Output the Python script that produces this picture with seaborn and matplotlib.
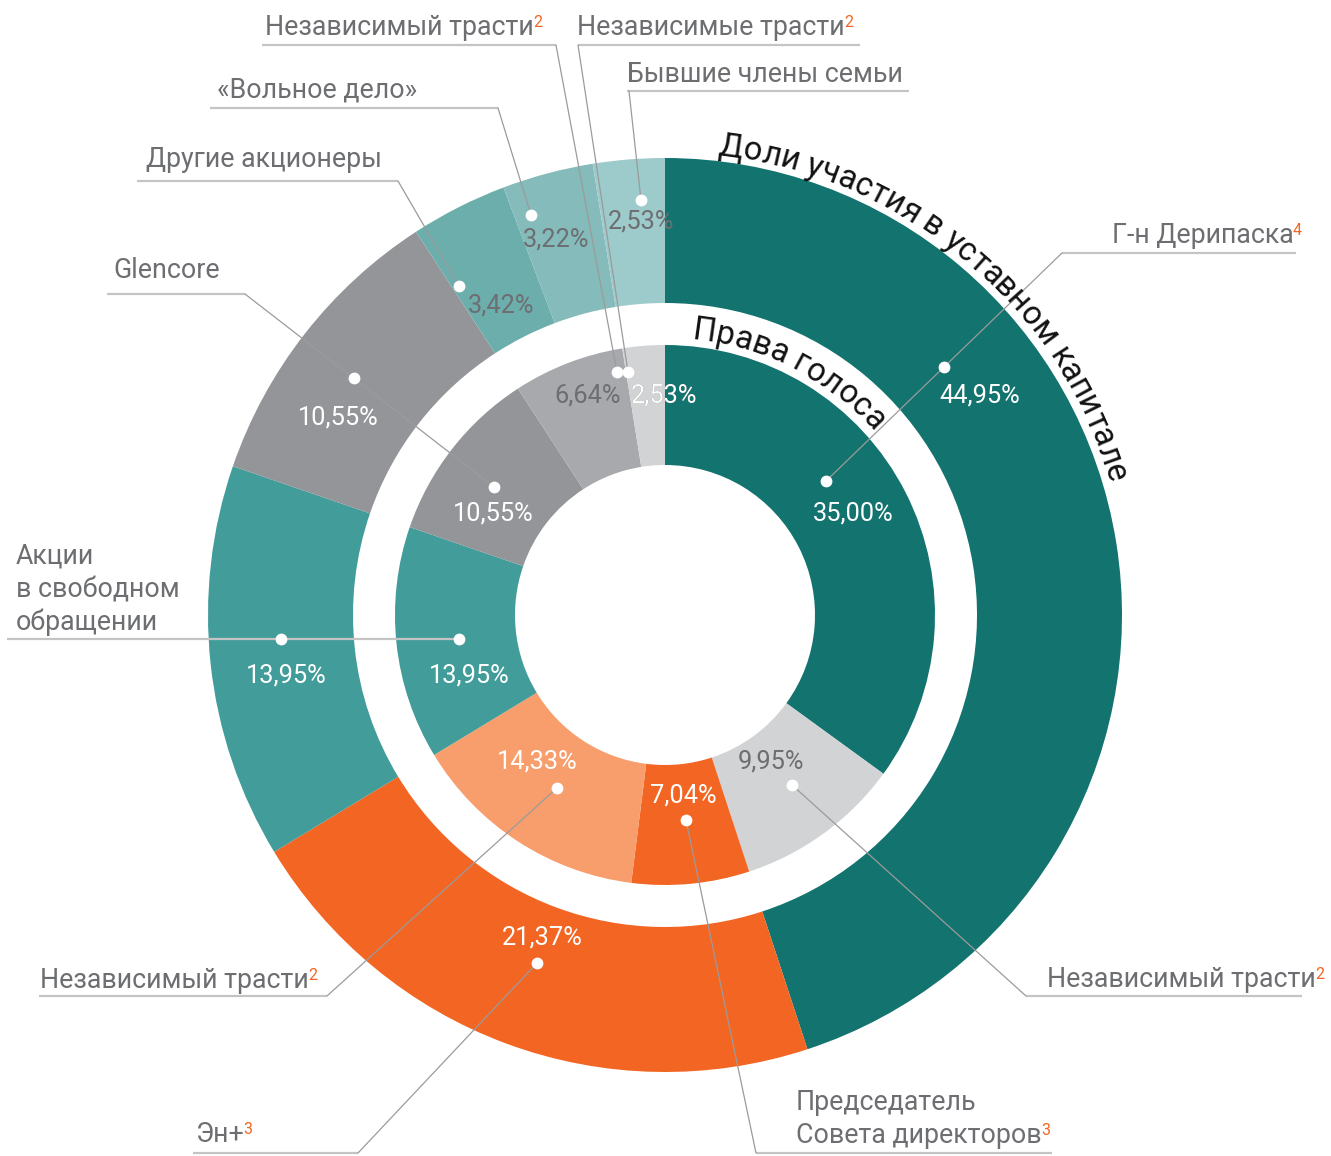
import numpy as np
import matplotlib
matplotlib.use("Agg")
import matplotlib.pyplot as plt
from matplotlib.font_manager import FontProperties
import seaborn as sns

# ---- data -------------------------------------------------------------
outer_names = ["Г-н Дерипаска", "Эн+", "Акции в свободном обращении", "Glencore",
               "Другие акционеры", "«Вольное дело»", "Бывшие члены семьи"]
outer_shares = [44.95, 21.37, 13.95, 10.55, 3.42, 3.22, 2.53]

inner_names = ["Г-н Дерипаска", "Независимый трасти", "Председатель Совета директоров",
               "Независимый трасти", "Акции в свободном обращении", "Glencore",
               "Независимый трасти", "Независимые трасти"]
inner_shares = [35.00, 9.95, 7.04, 14.33, 13.95, 10.55, 6.64, 2.53]

outer_title = "Доли участия в уставном капитале"
inner_title = "Права голоса"

# ---- styling ----------------------------------------------------------
TEAL_DARK, ORANGE, TEAL, GREY = "#12736F", "#F26522", "#419C9A", "#939598"
outer_colors = [TEAL_DARK, ORANGE, TEAL, GREY, "#6CAEAC", "#85BBBA", "#9DCACA"]
inner_colors = [TEAL_DARK, "#D1D3D4", ORANGE, "#F89E6C", TEAL, GREY, "#A7A9AC", "#D1D3D4"]
outer_text_colors = ["white", "white", "white", "white", "#6D6E71", "#6D6E71", "#6D6E71"]
inner_text_colors = ["white", "#6D6E71", "white", "white", "white", "white", "#6D6E71", "#6D6E71"]
LABEL_C = "#6D6E71"
LINE_C = "#9B9B9B"
RULE_C = "#C4C4C4"

W, H = 1331, 1156
CX, CY = 665, 615
R_OUT, W_OUT = 457, 145
R_IN, W_IN = 270, 120

sns.set_theme(style="white")
plt.rcParams["font.family"] = ["Roboto", "DejaVu Sans"]

fig = plt.figure(figsize=(W / 100, H / 100), dpi=100)
ax = fig.add_axes([0, 0, 1, 1])


def P(x, y):
    """pixel position (y down) -> data position (y up)"""
    return x, H - y


centre = P(CX, CY)
outer_w, _ = ax.pie(outer_shares, colors=outer_colors, radius=R_OUT, center=centre,
                    startangle=90, counterclock=False,
                    wedgeprops=dict(width=W_OUT, linewidth=0))
inner_w, _ = ax.pie(inner_shares, colors=inner_colors, radius=R_IN, center=centre,
                    startangle=90, counterclock=False,
                    wedgeprops=dict(width=W_IN, linewidth=0))
ax.set_xlim(0, W)
ax.set_ylim(0, H)
ax.set_aspect("equal")
ax.axis("off")


def pct(v):
    return f"{v:.2f}%".replace(".", ",")


# ---- value labels -----------------------------------------------------
outer_pct_pos = [(980, 395), (542, 938), (286, 676), (338, 417), (501, 306), (556, 239), (641, 222)]
inner_pct_pos = [(853, 513), (771, 762), (683, 796), (537, 762), (469, 676), (493, 514), (588, 395), (664, 395)]

PCT_KW = dict(ha="center", va="center", fontsize=18.3, fontweight="normal", zorder=6)
for v, (x, y), c in zip(outer_shares, outer_pct_pos, outer_text_colors):
    ax.text(*P(x, y), pct(v), color=c, **PCT_KW)
for i, (v, (x, y), c) in enumerate(zip(inner_shares, inner_pct_pos, inner_text_colors)):
    ax.text(*P(x, y), pct(v), color=c, **PCT_KW)
    if i == len(inner_shares) - 1:
        # the part of this label lying on the dark wedge turns white
        t = ax.text(*P(x, y), pct(v), color="white", **PCT_KW)
        t.set_clip_path(inner_w[0])

# ---- callouts ---------------------------------------------------------
# lines of text, footnote, text x, baselines, rule (x0, x1, y), leader path, dots
callouts = [
    (["Г-н Дерипаска"], "4", 1112, [243], (1062, 1296, 253),
     [(1062, 253), (826, 481)], [(944, 367), (826, 481)]),
    (["Эн+"], "3", 195, [1142], (193, 358, 1153),
     [(358, 1153), (537, 963)], [(537, 963)]),
    (["Акции", "в свободном", "обращении"], None, 16, [563, 597, 630], (7, 459, 639),
     [], [(281, 639), (459, 639)]),
    (["Glencore"], None, 113, [278], (107, 245, 294),
     [(245, 294), (494, 487)], [(354, 378), (494, 487)]),
    (["Другие акционеры"], None, 146, [167], (137, 398, 181),
     [(398, 181), (459, 286)], [(459, 286)]),
    (["«Вольное дело»"], None, 217, [98], (210, 498, 108),
     [(498, 108), (531, 215)], [(531, 215)]),
    (["Независимый трасти"], "2", 265, [35], (262, 556, 45),
     [(556, 45), (617, 372)], [(617, 372)]),
    (["Независимые трасти"], "2", 577, [35], (578, 860, 45),
     [(578, 45), (628, 372)], [(628, 372)]),
    (["Бывшие члены семьи"], None, 627, [82], (627, 909, 91),
     [(629, 91), (641, 200)], [(641, 200)]),
    (["Независимый трасти"], "2", 40, [988], (39, 327, 996),
     [(327, 996), (557, 788)], [(557, 788)]),
    (["Председатель", "Совета директоров"], "3", 796, [1110, 1143], (756, 1052, 1153),
     [(756, 1153), (686, 820)], [(686, 820)]),
    (["Независимый трасти"], "2", 1047, [987], (1026, 1302, 996),
     [(1026, 996), (792, 785)], [(792, 785)]),
]

for lines, note, tx, bases, rule, path, dots in callouts:
    last = None
    for s, b in zip(lines, bases):
        last = ax.text(*P(tx, b), s, ha="left", va="baseline", fontsize=19.3,
                       color=LABEL_C, zorder=6)
    if note:
        ax.annotate(note, xy=(1, 0), xycoords=last, xytext=(-0.5, 18.5),
                    textcoords="offset points", ha="left", va="top",
                    fontsize=11.5, color=ORANGE, zorder=6)
    x0, x1, ry = rule
    ax.plot([P(x0, ry)[0], P(x1, ry)[0]], [P(x0, ry)[1], P(x1, ry)[1]],
            color=RULE_C, lw=1.6, solid_capstyle="butt", zorder=4)
    if path:
        xs, ys = zip(*[P(px, py) for px, py in path])
        ax.plot(xs, ys, color=LINE_C, lw=0.9, zorder=4)
    for dx, dy in dots:
        ax.plot(*P(dx, dy), marker="o", ms=8.5, mfc="white", mec="none", zorder=5)


# ---- curved ring titles ----------------------------------------------
renderer = fig.canvas.get_renderer()


def arc_text(s, r, start_deg, size, color="#111111"):
    fp = FontProperties(family=["Roboto", "DejaVu Sans"], size=size)

    def width(t):
        if not t:
            return 0.0
        w_sent = renderer.get_text_width_height_descent("н", fp, ismath=False)[0]
        return renderer.get_text_width_height_descent(t + "н", fp, ismath=False)[0] - w_sent

    cx, cy = centre
    for i, ch in enumerate(s):
        if ch == " ":
            continue
        a, b = width(s[:i]), width(s[:i + 1])
        theta = np.radians(start_deg) + 0.5 * (a + b) / r
        x = cx + r * np.sin(theta)
        y = cy + r * np.cos(theta)
        ax.text(x, y, ch, rotation=-np.degrees(theta), rotation_mode="anchor",
                ha="center", va="baseline", fontproperties=fp, color=color, zorder=7)


arc_text(outer_title, 463, 6.5, 23.5)
arc_text(inner_title, 277, 5.5, 23.5)

fig.savefig("out.png", dpi=100, facecolor="white")
